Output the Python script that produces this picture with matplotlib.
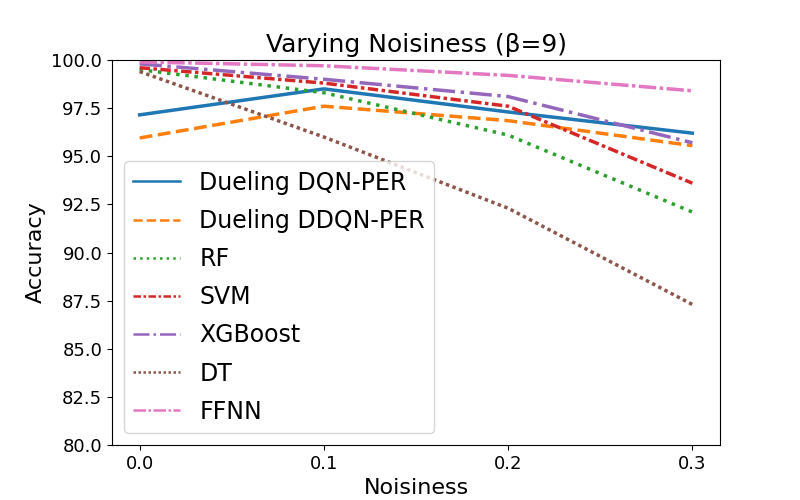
import matplotlib
matplotlib.use("Agg")
import matplotlib.pyplot as plt

noise = [0.0, 0.1, 0.2, 0.3]
names = ["Dueling DQN-PER", "Dueling DDQN-PER", "RF", "SVM", "XGBoost", "DT", "FFNN"]
dqn = [97.15, 98.5, 97.3, 96.2]
ddqn = [95.95, 97.6, 96.85, 95.55]
rf = [99.5, 98.3, 96.1, 92.1]
svm = [99.6, 98.8, 97.6, 93.6]
xgb = [99.8, 99.0, 98.1, 95.7]
dt = [99.4, 96.0, 92.3, 87.3]
ffnn = [99.9, 99.7, 99.2, 98.4]

styles = ["-", "--", ":", (0, (3, 1, 1, 1)), "-.", (0, (1, 1)), (0, (5, 1, 1, 1))]
series = [dqn, ddqn, rf, svm, xgb, dt, ffnn]

fig, ax = plt.subplots(figsize=(8, 5), dpi=100)
fig.subplots_adjust(left=0.14, right=0.9, top=0.88, bottom=0.11)
for name, vals, ls in zip(names, series, styles):
    ax.plot(noise, vals, linestyle=ls, linewidth=2.5, label=name)

ax.set_ylim(80, 100)
ax.set_xticks(noise)
ax.tick_params(labelsize=13)
ax.set_title("Varying Noisiness (β=9)", fontsize=18)
ax.set_xlabel("Noisiness", fontsize=16)
ax.set_ylabel("Accuracy", fontsize=16)
leg = ax.legend(fontsize=17, loc="lower left", labelspacing=0.6)
for line in leg.get_lines():
    line.set_linewidth(1.8)
fig.savefig("out.png")
